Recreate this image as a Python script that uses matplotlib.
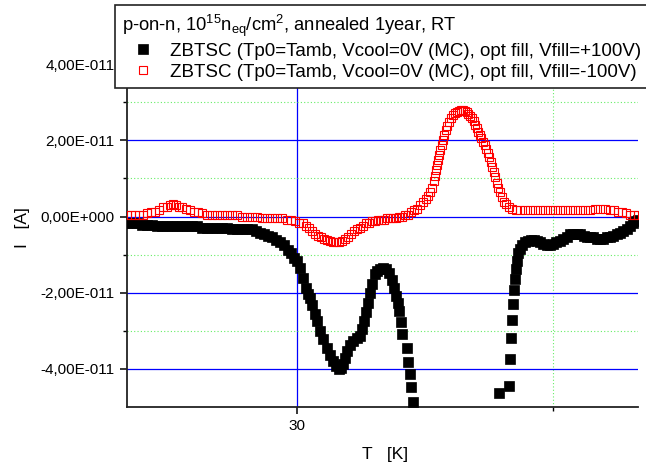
import matplotlib
matplotlib.use("Agg")
import matplotlib.pyplot as plt
import numpy as np
from matplotlib.ticker import FixedLocator, FixedFormatter

plt.rcParams['font.family'] = ['Liberation Sans', 'DejaVu Sans']
plt.rcParams['mathtext.default'] = 'regular'

# Vfill = +100V (filled black squares); current in units of 1e-11 A
t_plus = [23.36, 23.55, 23.75, 23.95, 24.14, 24.34, 24.53, 24.73, 24.92, 25.12,
          25.31, 25.51, 25.70, 25.90, 26.09, 26.29, 26.48, 26.68, 26.88, 27.07,
          27.27, 27.46, 27.66, 27.85, 28.05, 28.24, 28.40, 28.55, 28.71, 28.87,
          29.02, 29.18, 29.34, 29.49, 29.65, 29.77, 29.88, 30.00, 30.12, 30.23,
          30.35, 30.43, 30.51, 30.59, 30.70, 30.78, 30.90, 31.02, 31.17, 31.29,
          31.41, 31.52, 31.64, 31.72, 31.80, 31.88, 31.95, 32.07, 32.19, 32.34,
          32.46, 32.54, 32.62, 32.70, 32.77, 32.85, 32.93, 33.05, 33.13, 33.24,
          33.36, 33.48, 33.59, 33.71, 33.79, 33.87, 33.95, 33.98, 34.06, 34.10,
          34.30, 34.34, 34.41, 34.45, 34.53,
          37.89, 38.28, 38.31, 38.36, 38.40, 38.44, 38.47, 38.51, 38.55, 38.59,
          38.63, 38.71, 38.79, 38.91, 39.02, 39.14, 39.26, 39.38, 39.49, 39.61,
          39.77, 39.88, 40.00, 40.12, 40.27, 40.39, 40.55, 40.66, 40.78, 40.94,
          41.05, 41.21, 41.33, 41.45, 41.56, 41.72, 41.84, 41.95, 42.11, 42.23,
          42.34, 42.50, 42.62, 42.73, 42.89, 43.01, 43.13, 43.24, 43.32]
i_plus = [-0.16, -0.18, -0.18, -0.21, -0.21, -0.21, -0.24, -0.24, -0.24, -0.24,
          -0.26, -0.26, -0.26, -0.26, -0.26, -0.29, -0.29, -0.29, -0.29, -0.29,
          -0.29, -0.32, -0.32, -0.32, -0.32, -0.34, -0.37, -0.42, -0.47, -0.50,
          -0.55, -0.61, -0.66, -0.76, -0.87, -0.97, -1.08, -1.16, -1.34, -1.61,
          -1.87, -2.03, -2.13, -2.32, -2.55, -2.74, -3.00, -3.21, -3.45, -3.63,
          -3.79, -3.92, -4.00, -3.97, -3.87, -3.71, -3.53, -3.37, -3.26, -3.18,
          -3.13, -2.95, -2.74, -2.50, -2.26, -2.00, -1.76, -1.50, -1.42, -1.37,
          -1.34, -1.37, -1.47, -1.66, -1.87, -2.08, -2.26, -2.47, -2.76, -3.08,
          -3.45, -3.82, -4.13, -4.47, -4.87,
          -4.63, -4.45, -3.74, -3.18, -2.71, -2.29, -1.92, -1.63, -1.39, -1.16,
          -0.97, -0.84, -0.76, -0.68, -0.63, -0.61, -0.61, -0.63, -0.68, -0.71,
          -0.74, -0.74, -0.71, -0.68, -0.63, -0.58, -0.53, -0.47, -0.45, -0.45,
          -0.47, -0.50, -0.53, -0.55, -0.55, -0.58, -0.58, -0.58, -0.55, -0.53,
          -0.50, -0.45, -0.42, -0.37, -0.32, -0.26, -0.18, -0.13, -0.08]

# Vfill = -100V (open red squares)
t_minus = [23.36, 23.52, 23.67, 23.83, 23.98, 24.14, 24.30, 24.45, 24.61, 24.77,
           24.92, 25.04, 25.16, 25.27, 25.39, 25.51, 25.66, 25.82, 25.98, 26.13,
           26.29, 26.48, 26.68, 26.88, 27.07, 27.27, 27.46, 27.66, 27.85, 28.05,
           28.24, 28.44, 28.63, 28.83, 29.02, 29.22, 29.41, 29.61, 29.77, 29.92,
           30.08, 30.23, 30.35, 30.47, 30.59, 30.70, 30.82, 30.94, 31.05, 31.17,
           31.29, 31.41, 31.52, 31.64, 31.76, 31.88, 31.99, 32.11, 32.23, 32.34,
           32.46, 32.58, 32.70, 32.81, 32.93, 33.05, 33.16, 33.28, 33.40, 33.52,
           33.63, 33.75, 33.87, 33.98, 34.10, 34.22, 34.34, 34.45, 34.57, 34.69,
           34.80, 34.92, 35.04, 35.12, 35.20, 35.27, 35.35, 35.39, 35.43, 35.47,
           35.51, 35.55, 35.59, 35.66, 35.70, 35.74, 35.82, 35.86, 35.94, 36.02,
           36.09, 36.17, 36.25, 36.33, 36.41, 36.48, 36.56, 36.64, 36.68, 36.76,
           36.84, 36.91, 36.95, 37.03, 37.07, 37.15, 37.19, 37.27, 37.34, 37.38,
           37.46, 37.50, 37.58, 37.62, 37.70, 37.73, 37.81, 37.85, 37.93, 38.01,
           38.09, 38.16, 38.28, 38.40, 38.55, 38.71, 38.91, 39.10, 39.30, 39.49,
           39.69, 39.88, 40.08, 40.27, 40.47, 40.66, 40.86, 41.05, 41.25, 41.45,
           41.64, 41.84, 42.03, 42.23, 42.38, 42.54, 42.70, 42.85, 43.01, 43.16,
           43.32]
i_minus = [0.03, 0.03, 0.03, 0.05, 0.05, 0.08, 0.11, 0.13, 0.18, 0.24,
           0.26, 0.29, 0.32, 0.29, 0.26, 0.24, 0.21, 0.16, 0.13, 0.11,
           0.08, 0.05, 0.05, 0.03, 0.03, 0.03, 0.03, 0.03, 0.00, 0.00,
           0.00, 0.00, -0.03, -0.03, -0.03, -0.03, -0.05, -0.08, -0.08, -0.11,
           -0.16, -0.18, -0.24, -0.29, -0.37, -0.45, -0.50, -0.53, -0.58, -0.61,
           -0.63, -0.66, -0.66, -0.66, -0.63, -0.58, -0.53, -0.45, -0.39, -0.34,
           -0.29, -0.24, -0.18, -0.16, -0.11, -0.11, -0.08, -0.08, -0.08, -0.05,
           -0.05, -0.05, -0.03, 0.00, 0.00, 0.03, 0.05, 0.11, 0.16, 0.21,
           0.29, 0.37, 0.45, 0.55, 0.63, 0.74, 0.92, 1.05, 1.21, 1.34,
           1.47, 1.61, 1.74, 1.87, 2.00, 2.13, 2.26, 2.37, 2.47, 2.58,
           2.66, 2.71, 2.74, 2.76, 2.79, 2.79, 2.76, 2.74, 2.68, 2.63,
           2.58, 2.50, 2.39, 2.32, 2.21, 2.13, 2.05, 1.95, 1.87, 1.76,
           1.66, 1.55, 1.42, 1.29, 1.16, 1.03, 0.89, 0.76, 0.63, 0.50,
           0.39, 0.32, 0.24, 0.21, 0.18, 0.16, 0.16, 0.16, 0.16, 0.16,
           0.16, 0.16, 0.16, 0.16, 0.16, 0.16, 0.18, 0.18, 0.18, 0.18,
           0.21, 0.21, 0.21, 0.18, 0.16, 0.13, 0.11, 0.08, 0.05, 0.05,
           0.05]

y_ticks = [-4e-11, -2e-11, 0.0, 2e-11, 4e-11]
y_ticklabels = ['-4,00E-011', '-2,00E-011', '0,00E+000', '2,00E-011', '4,00E-011']
y_minor = [-3e-11, -1e-11, 1e-11, 3e-11]
x_ticks = [30]
x_minor = [40]

label_plus = 'ZBTSC (Tp0=Tamb, Vcool=0V (MC), opt fill, Vfill=+100V)'
label_minus = 'ZBTSC (Tp0=Tamb, Vcool=0V (MC), opt fill, Vfill=-100V)'
legend_title = 'p-on-n, 10$^{15}$n$_{eq}$/cm$^{2}$, annealed 1year, RT'

fig = plt.figure(figsize=(6.46, 4.67), dpi=100)
ax = fig.add_axes([0.1966, 0.1285, 0.791, 0.8158])

ax.plot(t_plus, np.array(i_plus) * 1e-11, ls='none', marker='s', ms=6.5,
        mfc='black', mec='black', mew=0.5, label=label_plus, zorder=3)
ax.plot(t_minus, np.array(i_minus) * 1e-11, ls='none', marker='s', ms=6.0,
        mfc='none', mec='#ff0000', mew=0.8, label=label_minus, zorder=4)

ax.set_xlim(23.36, 43.32)
ax.set_ylim(-5e-11, 5e-11)

ax.yaxis.set_major_locator(FixedLocator(y_ticks))
ax.yaxis.set_major_formatter(FixedFormatter(y_ticklabels))
ax.yaxis.set_minor_locator(FixedLocator(y_minor))
ax.xaxis.set_major_locator(FixedLocator(x_ticks))
ax.xaxis.set_minor_locator(FixedLocator(x_minor))

ax.grid(True, which='major', color='#0000ff', lw=0.9, zorder=1)
ax.grid(True, which='minor', color='#66ee66', lw=0.8, ls=(0, (1, 2)), zorder=1)
ax.set_axisbelow(True)

for s in ['top', 'right']:
    ax.spines[s].set_visible(False)
for s in ['left', 'bottom']:
    ax.spines[s].set_linewidth(1.3)
    ax.spines[s].set_color('#222222')

ax.tick_params(which='major', direction='out', length=5, width=1.1, labelsize=11, pad=4)
ax.tick_params(which='minor', direction='out', length=3, width=1.0)
ax.tick_params(axis='x', which='minor', labelbottom=False)

ax.set_xlabel('T   [K]', fontsize=12.5)
ax.set_ylabel('I   [A]', fontsize=12.5)
ax.xaxis.set_label_coords(0.505, -0.104)
ax.yaxis.set_label_coords(-0.19, 0.47)

leg = ax.legend(loc='upper left', bbox_to_anchor=(115 / 646, 1 - 5 / 467),
                bbox_transform=fig.transFigure, title=legend_title,
                alignment='left', fontsize=13.5, title_fontsize=13.2,
                fancybox=False, framealpha=1, edgecolor='#222222',
                borderpad=0.4, labelspacing=0.2, handletextpad=0.35,
                handlelength=2.2, borderaxespad=0, markerscale=1.0)
leg.get_frame().set_linewidth(1.2)
leg.set_zorder(10)

fig.savefig('out.png', dpi=100)
